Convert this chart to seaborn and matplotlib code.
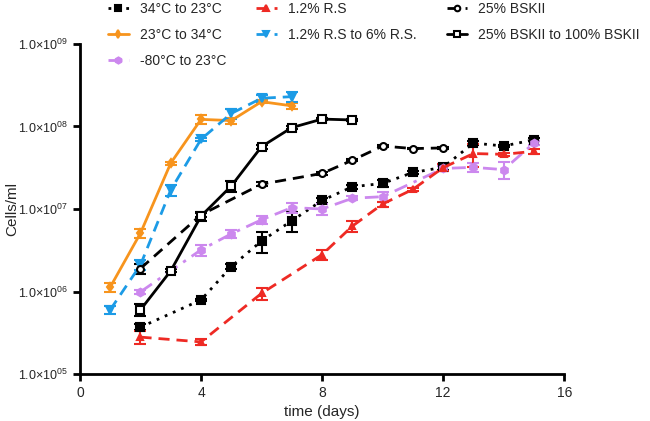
import numpy as np
import pandas as pd
import matplotlib
matplotlib.use("Agg")
import matplotlib.pyplot as plt
import seaborn as sns
from matplotlib.ticker import FixedLocator, FuncFormatter, NullLocator

sns.set_style("white")
plt.rcParams['font.family'] = ['Liberation Sans', 'DejaVu Sans']
plt.rcParams['mathtext.fontset'] = 'custom'
plt.rcParams['mathtext.rm'] = 'Liberation Sans'

#%% data
days_34_23 = [2, 4, 5, 6, 7, 8, 9, 10, 11, 12, 13, 14, 15]
cells_34_23 = [3.7e5, 7.9e5, 2.0e6, 4.1e6, 7.2e6, 1.27e7, 1.86e7, 2.04e7, 2.77e7, 3.2e7, 6.3e7, 5.8e7, 6.9e7]
err_34_23 = [3e4, 3e4, 1.5e5, 1.2e6, 2.0e6, 8e5, 1e6, 2.0e6, 1e6, 2e6, 3e6, 2e6, 3e6]

days_23_34 = [1, 2, 3, 4, 5, 6, 7]
cells_23_34 = [1.13e6, 5.1e6, 3.6e7, 1.22e8, 1.18e8, 2.0e8, 1.78e8]
err_23_34 = [1.5e5, 6e5, 1.5e6, 1.5e7, 1.0e7, 8e6, 1.5e7]

days_m80_23 = [2, 4, 5, 6, 7, 8, 9, 10, 12, 13, 14, 15]
cells_m80_23 = [9.9e5, 3.2e6, 5.0e6, 7.4e6, 1.04e7, 1.0e7, 1.35e7, 1.41e7, 3.1e7, 3.2e7, 3.0e7, 6.3e7]
err_m80_23 = [6e4, 5e5, 5e5, 8e5, 1.5e6, 1.5e6, 8e5, 2e6, 2e6, 4e6, 7e6, 3e6]

days_rs = [2, 4, 6, 8, 9, 10, 11, 12, 13, 14, 15]
cells_rs = [2.8e5, 2.45e5, 9.5e5, 2.8e6, 6.2e6, 1.15e7, 1.73e7, 3.17e7, 4.7e7, 4.6e7, 5.0e7]
err_rs = [5e4, 2e4, 1.5e5, 4e5, 1e6, 8e5, 8e5, 3e6, 1.5e7, 2e6, 3e6]

days_rs6 = [1, 2, 3, 4, 5, 6, 7]
cells_rs6 = [6.0e5, 2.1e6, 1.7e7, 7.0e7, 1.44e8, 2.2e8, 2.3e8]
err_rs6 = [6e4, 3e5, 2.5e6, 3e6, 2e7, 2e7, 3e7]

days_bsk = [2, 4, 6, 8, 9, 10, 11, 12]
cells_bsk = [1.9e6, 8.5e6, 2.0e7, 2.7e7, 3.9e7, 5.8e7, 5.4e7, 5.5e7]
err_bsk = [2.5e5, 5e5, 1e6, 1e6, 1e6, 2e6, 1e6, 1e6]

days_bsk100 = [2, 3, 4, 5, 6, 7, 8, 9]
cells_bsk100 = [6.0e5, 1.78e6, 8.2e6, 1.9e7, 5.7e7, 9.7e7, 1.23e8, 1.2e8]
err_bsk100 = [1e5, 8e4, 1e6, 3e6, 3e6, 4e6, 4e6, 4e6]

#%%
series = [
    ('34°C to 23°C', days_34_23, cells_34_23, err_34_23, 'black', (0, (1, 2.2)), 's', 'black', 5.5),
    ('23°C to 34°C', days_23_34, cells_23_34, err_23_34, '#F7941D', '-', 'd', '#F7941D', 4.5),
    ('-80°C to 23°C', days_m80_23, cells_m80_23, err_m80_23, '#CC88EE', (0, (5, 2.5, 1.2, 2.5)), 'h', '#CC88EE', 5.5),
    ('1.2% R.S', days_rs, cells_rs, err_rs, '#EE2A24', (0, (4, 2.5)), '^', '#EE2A24', 5),
    ('1.2% R.S to 6% R.S.', days_rs6, cells_rs6, err_rs6, '#1C9BE6', (0, (4, 2.5)), 'v', '#1C9BE6', 5.5),
    ('25% BSKII', days_bsk, cells_bsk, err_bsk, 'black', (0, (4, 2.5)), 'o', 'white', 5),
    ('25% BSKII to 100% BSKII', days_bsk100, cells_bsk100, err_bsk100, 'black', '-', 's', 'white', 5.5),
]

fig = plt.figure(figsize=(6.5, 4.21), dpi=100)
ax = fig.add_axes([0.123, 0.1116, 0.745, 0.7839])

for label, x, y, e, col, ls, mk, mfc, ms in series:
    df = pd.DataFrame({'day': x, 'cells': y})
    ax.errorbar(x, y, yerr=e, fmt='none', ecolor=col, elinewidth=1.5,
                capsize=4, capthick=1.5, zorder=2)
    sns.lineplot(data=df, x='day', y='cells', ax=ax, label=label, color=col,
                 linestyle=ls, linewidth=2, marker=mk, markersize=ms,
                 markerfacecolor=mfc, markeredgecolor=col, markeredgewidth=1.5,
                 zorder=3)

ax.set_yscale('log')
ax.set_ylim(1e5, 1e9)
ax.set_xlim(0, 16)
ax.xaxis.set_major_locator(FixedLocator([0, 4, 8, 12, 16]))
ax.yaxis.set_major_locator(FixedLocator([1e5, 1e6, 1e7, 1e8, 1e9]))
ax.yaxis.set_minor_locator(NullLocator())
ax.yaxis.set_major_formatter(FuncFormatter(
    lambda v, p: r'1.0×10$^{\mathregular{%02d}}$' % int(round(np.log10(v)))))

for s in ['top', 'right']:
    ax.spines[s].set_visible(False)
for s in ['left', 'bottom']:
    ax.spines[s].set_linewidth(2)
    ax.spines[s].set_color('black')
ax.tick_params(axis='both', which='major', direction='out', length=5, width=2,
               labelsize=9, color='black', left=True, bottom=True)
ax.tick_params(axis='x', labelsize=10)

ax.set_xlabel('time (days)', fontsize=11)
ax.set_ylabel('Cells/ml', fontsize=11)
ax.yaxis.set_label_coords(-0.125, 0.5)

ax.legend(loc='upper left', bbox_to_anchor=(0.166, 0.995), bbox_transform=fig.transFigure,
          ncol=3, frameon=False, fontsize=10, handlelength=1.5, handletextpad=0.8,
          columnspacing=2.15, labelspacing=0.85, borderpad=0, borderaxespad=0,
          markerscale=0.8)

fig.savefig('out.png', dpi=100)
